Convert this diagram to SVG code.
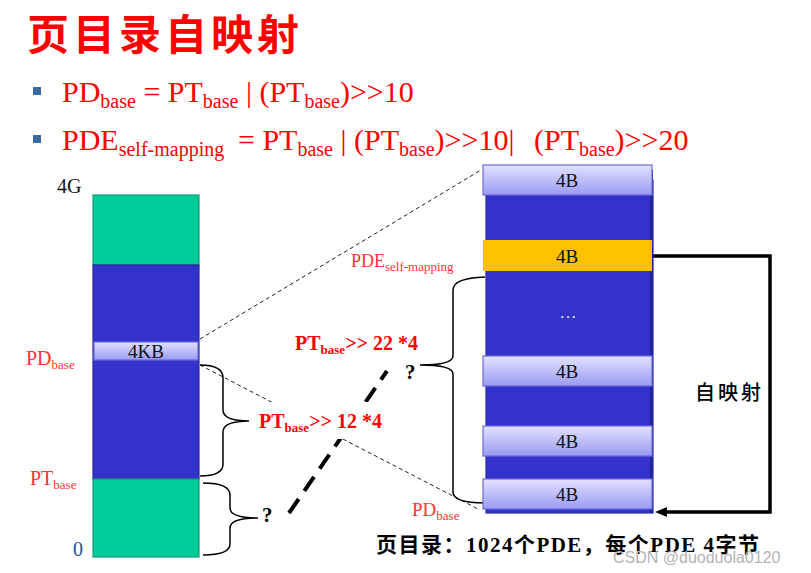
<svg xmlns="http://www.w3.org/2000/svg" width="811" height="573" viewBox="0 0 811 573">
<defs>
<linearGradient id="bar" x1="0" y1="0" x2="0" y2="1">
<stop offset="0" stop-color="#e2e2ff"/>
<stop offset="1" stop-color="#9a9af4"/>
</linearGradient>
<marker id="arr" viewBox="0 0 12 10" refX="1" refY="5" markerWidth="12" markerHeight="10" orient="auto" markerUnits="userSpaceOnUse">
<path d="M0,0 L12,5 L0,10 z" fill="#000"/>
</marker>
<style>
.serif{font-family:"Liberation Serif","Noto Sans CJK SC",serif}
.red{fill:#ff0000}
.lred{fill:#ff3333}
.bar{fill:url(#bar);stroke:#6b6bd6;stroke-width:1.2}
.lbl{font-family:"Liberation Serif",serif;font-size:19px;fill:#111;text-anchor:middle}
.brace{fill:none;stroke:#000;stroke-width:1.5}
.thin{fill:none;stroke:#222;stroke-width:1;stroke-dasharray:4 3}
.bold{font-family:"Liberation Serif",serif;font-weight:bold;fill:#ff0000}
</style>
</defs>
<rect width="811" height="573" fill="#fff"/>

<g id="title">
<text x="27" y="50" font-family="'Noto Sans CJK SC',sans-serif" font-weight="bold" font-size="42" fill="#ff0000" letter-spacing="4">页目录自映射</text>
</g>

<g id="formulas" class="serif">
<rect x="33" y="87" width="8" height="8" fill="#3a6aa6"/>
<rect x="33" y="135" width="8" height="8" fill="#3a6aa6"/>
<text x="62" y="102" font-size="30" class="red">PD<tspan font-size="20" dy="6">base</tspan><tspan dy="-6"> = PT</tspan><tspan font-size="20" dy="6">base</tspan><tspan dy="-6"> | (PT</tspan><tspan font-size="20" dy="6">base</tspan><tspan dy="-6">)&gt;&gt;10</tspan></text>
<text x="62" y="150" font-size="30" class="red">PDE<tspan font-size="20" dy="6">self-mapping</tspan><tspan dy="-6" x="238">= PT</tspan><tspan font-size="20" dy="6">base</tspan><tspan dy="-6"> | (PT</tspan><tspan font-size="20" dy="6">base</tspan><tspan dy="-6">)&gt;&gt;10|</tspan><tspan x="534">(PT</tspan><tspan font-size="20" dy="6">base</tspan><tspan dy="-6">)&gt;&gt;20</tspan></text>
</g>

<g id="connectors">
<line class="thin" x1="200" y1="339" x2="481" y2="170"/>
<line class="thin" x1="200" y1="365" x2="478" y2="509"/>
<line x1="289" y1="513" x2="387" y2="371" stroke="#000" stroke-width="4" stroke-dasharray="17 10"/>
<path class="brace" d="M200,365 Q223,365 223,378 L223,410 Q223,421 249,421 Q223,421 223,432 L223,464 Q223,476 200,476"/>
<path class="brace" d="M203,483 Q230,483 230,495 L230,508 Q230,518 258,518 Q230,518 230,528 L230,544 Q230,555 203,555"/>
<path class="brace" d="M485,277 Q453,278 453,290 L453,356 Q453,365 420,365 Q453,365 453,374 L453,492 Q453,503 485,503"/>
<polyline points="652,256 770,256 770,512 666,512" fill="none" stroke="#000" stroke-width="3.5" marker-end="url(#arr)"/>
</g>

<g id="left-memory">
<rect x="93" y="195" width="106" height="70" fill="#00cc99" stroke="#1d9a7c" stroke-width="1.2"/>
<rect x="93" y="265" width="106" height="214" fill="#3333cc" stroke="#2a2a9c" stroke-width="1.2"/>
<rect x="93" y="479" width="106" height="78" fill="#00cc99" stroke="#1d9a7c" stroke-width="1.2"/>
<rect class="bar" x="94" y="342" width="104" height="18"/>
<text class="lbl" x="146" y="358">4KB</text>
</g>

<g id="left-labels" class="serif">
<text x="57" y="193" font-size="20" fill="#111">4G</text>
<text x="26" y="365" font-size="20" class="lred">PD<tspan font-size="13" dy="4">base</tspan></text>
<text x="30" y="485" font-size="20" class="lred">PT<tspan font-size="13" dy="4">base</tspan></text>
<text x="73" y="556" font-size="20" fill="#2a4fa0">0</text>
</g>

<g id="page-directory">
<rect x="486" y="180" width="167" height="333" fill="#3333cc" stroke="#2a2aa6" stroke-width="1.2"/>
<rect x="650" y="170" width="3" height="343" fill="#24249a"/>
<rect class="bar" x="483" y="165" width="169" height="30"/>
<text class="lbl" x="567" y="187">4B</text>
<rect x="483" y="240" width="169" height="31" fill="#ffc000"/>
<text class="lbl" x="567" y="263">4B</text>
<text x="568" y="318" font-family="'Liberation Serif',serif" font-size="17" fill="#e8e8ff" text-anchor="middle">…</text>
<rect class="bar" x="483" y="356" width="169" height="30"/>
<text class="lbl" x="567" y="378">4B</text>
<rect class="bar" x="483" y="426" width="169" height="30"/>
<text class="lbl" x="567" y="448">4B</text>
<rect class="bar" x="483" y="479" width="169" height="30"/>
<text class="lbl" x="567" y="501">4B</text>
</g>

<g id="labels">
<text x="351" y="267" font-size="18" class="serif lred">PDE<tspan font-size="13" dy="4">self-mapping</tspan></text>
<text x="412" y="516" font-size="19" class="serif lred">PD<tspan font-size="13" dy="4">base</tspan></text>
<text x="295" y="350" font-size="20" class="bold">PT<tspan font-size="13" dy="4">base</tspan><tspan dy="-4">&gt;&gt; 22 *4</tspan></text>
<rect x="255" y="402" width="134" height="37" fill="#fff"/>
<text x="259" y="428" font-size="20" class="bold">PT<tspan font-size="13" dy="4">base</tspan><tspan dy="-4">&gt;&gt; 12 *4</tspan></text>
<text x="405" y="379" font-family="'Liberation Serif',serif" font-size="21" font-weight="bold" fill="#000">?</text>
<text x="262" y="522" font-family="'Liberation Serif',serif" font-size="21" font-weight="bold" fill="#000">?</text>
<text x="695" y="400" font-family="'Noto Sans CJK SC',sans-serif" font-size="20" font-weight="500" fill="#000" letter-spacing="3">自映射</text>
<text x="376" y="552" font-family="'Liberation Serif','Noto Sans CJK SC',serif" font-size="21" font-weight="bold" fill="#000" textLength="383" lengthAdjust="spacing">页目录：1024个PDE，每个PDE 4字节</text>
<text x="613" y="563" font-family="'Liberation Sans',sans-serif" font-size="16" fill="#b4b4b4">CSDN @duoduola0120</text>
</g>
</svg>
